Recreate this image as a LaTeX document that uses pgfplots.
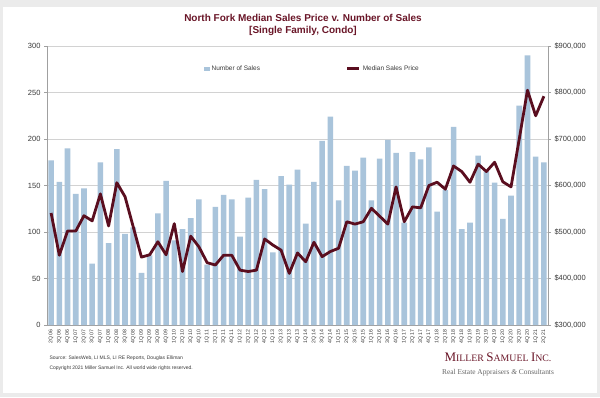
\documentclass[border=0pt]{standalone}
\usepackage{pgfplots}
\pgfplotsset{compat=1.18}
\usepackage{fontspec}
\setmainfont{Liberation Sans}
\newfontfamily\serifit{Liberation Serif}
\definecolor{barblue}{HTML}{A9C4DB}
\definecolor{maroon}{HTML}{5A0E1F}
\definecolor{titlered}{HTML}{6A1628}
\definecolor{gridgray}{HTML}{D2D2D2}
\definecolor{txtgray}{HTML}{3A3A3A}
\definecolor{axgray}{HTML}{A0A0A0}
\begin{document}
\begin{tikzpicture}[x=1pt,y=1pt]
\fill[gray!16] (0,0) rectangle (600,397);
\fill[white] (3,4) rectangle (597,390);
% titles
\node[font=\fontsize{10}{12}\selectfont\bfseries, text=titlered, align=center] at (303,372) {North Fork Median Sales Price v. Number of Sales\\{[}Single Family, Condo{]}};
\begin{axis}[at={(47pt,72pt)}, anchor=south west, width=501pt, height=279pt, scale only axis,
  xmin=0.5, xmax=61.5, ymin=0, ymax=300, ytick={0,50,...,300},
  axis y line*=left, axis x line*=bottom,
  axis line style={draw=axgray, line width=0.6pt},
  ymajorgrids, grid style={draw=gridgray, line width=0.6pt},
  xtick={1,...,61},
  xticklabels={2Q 06,3Q 06,4Q 06,1Q 07,2Q 07,3Q 07,4Q 07,1Q 08,2Q 08,3Q 08,4Q 08,1Q 09,2Q 09,3Q 09,4Q 09,1Q 10,2Q 10,3Q 10,4Q 10,1Q 11,2Q 11,3Q 11,4Q 11,1Q 12,2Q 12,3Q 12,4Q 12,1Q 13,2Q 13,3Q 13,4Q 13,1Q 14,2Q 14,3Q 14,4Q 14,1Q 15,2Q 15,3Q 15,4Q 15,1Q 16,2Q 16,3Q 16,4Q 16,1Q 17,2Q 17,3Q 17,4Q 17,1Q 18,2Q 18,3Q 18,4Q 18,1Q 19,2Q 19,3Q 19,4Q 19,1Q 20,2Q 20,3Q 20,4Q 20,1Q 21,2Q 21},
  x tick label style={rotate=90, anchor=east, font=\fontsize{5.2}{5.2}\selectfont, text=txtgray, inner sep=1.5pt},
  major x tick style={draw=none},
  y tick label style={font=\fontsize{7.5}{8}\selectfont, text=txtgray},
  /pgf/number format/assume math mode=true,
  tick align=outside, major tick length=3pt, major y tick style={draw=axgray},
  clip=false]
\addplot[ybar, bar width=5.6pt, fill=barblue, draw=none] coordinates {
(1,177)(2,154)(3,190)(4,141)(5,147)(6,66)(7,175)(8,88)(9,189)(10,98)
(11,105)(12,56)(13,75)(14,120)(15,155)(16,91)(17,103)(18,115)(19,135)(20,65)
(21,127)(22,140)(23,135)(24,95)(25,137)(26,156)(27,146)(28,78)(29,160)(30,151)
(31,167)(32,109)(33,154)(34,198)(35,224)(36,134)(37,171)(38,166)(39,180)(40,134)
(41,179)(42,199)(43,185)(44,110)(45,186)(46,178)(47,191)(48,122)(49,145)(50,213)
(51,103)(52,110)(53,182)(54,165)(55,153)(56,114)(57,139)(58,236)(59,290)(60,181)(61,175)};
\end{axis}
\begin{axis}[at={(47pt,72pt)}, anchor=south west, width=501pt, height=279pt, scale only axis,
  xmin=0.5, xmax=61.5, ymin=300000, ymax=900000,
  scaled y ticks=false,
  ytick={300000,400000,500000,600000,700000,800000,900000},
  yticklabels={{\$300,000},{\$400,000},{\$500,000},{\$600,000},{\$700,000},{\$800,000},{\$900,000}},
  axis y line*=right, axis x line=none,
  axis line style={draw=axgray, line width=0.6pt},
  y tick label style={font=\fontsize{7.5}{8}\selectfont, text=txtgray},
  tick align=outside, major tick length=3pt, major y tick style={draw=axgray},
  legend columns=2,
  legend style={at={(0.53,0.918)}, anchor=center, draw=none, fill=none, font=\fontsize{6.5}{7}\selectfont, text=txtgray,
    /tikz/every even column/.append style={column sep=84pt}},
  legend cell align=left]
\addlegendimage{legend image code/.code={\fill[barblue] (0pt,-1.6pt) rectangle (5pt,1.6pt);}}
\addlegendentry{Number of Sales}
\addplot[line width=2.8pt, color=maroon, line join=round, mark=none,
  legend image code/.code={\draw[line width=2.8pt,maroon] (0pt,0pt)--(12pt,0pt);}] coordinates {
(1,541000)(2,450000)(3,502000)(4,502000)(5,535000)(6,524000)(7,582000)(8,513000)(9,606000)(10,576000)
(11,511000)(12,446000)(13,451000)(14,479000)(15,451000)(16,518000)(17,415000)(18,491000)(19,468000)(20,434000)
(21,429000)(22,450000)(23,450000)(24,418000)(25,415000)(26,418000)(27,485000)(28,472000)(29,461000)(30,411000)
(31,455000)(32,436000)(33,478000)(34,447000)(35,458000)(36,465000)(37,522000)(38,517000)(39,522000)(40,551000)
(41,534000)(42,517000)(43,597000)(44,522000)(45,554000)(46,552000)(47,600000)(48,607000)(49,592000)(50,642000)
(51,630000)(52,607000)(53,646000)(54,630000)(55,650000)(56,608000)(57,597000)(58,700000)(59,805000)(60,750000)(61,792000)};
\addlegendentry{Median Sales Price}
\end{axis}
% footnotes
\node[anchor=west, font=\fontsize{5}{6}\selectfont, text=txtgray] at (46,39) {Source: SalesWeb, LI MLS, LI RE Reports, Douglas Elliman};
\node[anchor=west, font=\fontsize{5}{6}\selectfont, text=txtgray] at (46,29) {Copyright 2021 Miller Samuel Inc.  All world wide rights reserved.};
% logo
\node[anchor=center, text=titlered, inner sep=0pt] at (498,40) {\serifit{\fontsize{13}{14}\selectfont M}{\fontsize{9.8}{10}\selectfont ILLER} {\fontsize{13}{14}\selectfont S}{\fontsize{9.8}{10}\selectfont AMUEL} {\fontsize{13}{14}\selectfont I}{\fontsize{9.8}{10}\selectfont NC.}};
\node[anchor=center, text=black!60, inner sep=0pt] at (498,24) {\serifit\fontsize{7.4}{8}\selectfont Real Estate Appraisers \textit{\&} Consultants};
\end{tikzpicture}
\end{document}
